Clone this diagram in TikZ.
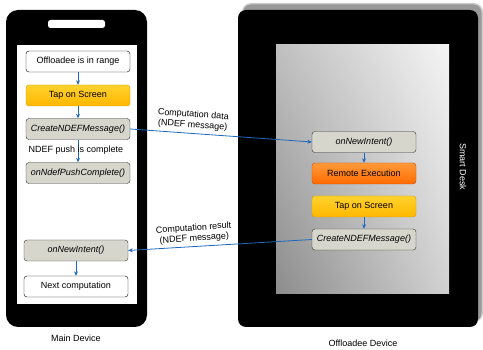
\documentclass[tikz,border=0pt]{standalone}
\usepackage{fontspec}
\setmainfont{Liberation Sans}
\usetikzlibrary{arrows.meta,shadings}
\definecolor{flowblue}{HTML}{1F68C1}
\definecolor{tapedge}{HTML}{D79B00}
\definecolor{tapA}{HTML}{FFD22E}
\definecolor{tapB}{HTML}{FFB700}
\definecolor{runedge}{HTML}{C24E00}
\definecolor{runA}{HTML}{FF9A3A}
\definecolor{runB}{HTML}{FF6A00}
\definecolor{callfill}{HTML}{D6D6CC}
\begin{document}
\begin{tikzpicture}[x=1pt, y=-1pt, >={Stealth[length=4.5pt, width=4pt]},
  every node/.style={font=\fontsize{9}{10.5}\selectfont},
  stepbox/.style={draw, rounded corners=3pt, minimum width=104pt, minimum height=21pt, inner sep=0pt},
  plainbox/.style={stepbox, fill=white},
  tapbox/.style={stepbox, draw=tapedge, top color=tapA, bottom color=tapB},
  runbox/.style={stepbox, draw=runedge, top color=runA, bottom color=runB},
  callbox/.style={stepbox, draw=black!80, fill=callfill, font=\fontsize{9}{10.5}\selectfont\itshape},
  flow/.style={->, flowblue, thick}]
\useasboundingbox (0,0) rectangle (483,350);
% main device
\fill [black, rounded corners=12pt] (6,10) rectangle (147,327);
\fill [white] (17,45) rectangle (137,304);
\fill [white, rounded corners=2.5pt] (48,20) rectangle (105,28);
\node (main) at (76,338) {Main Device};
% offloadee device
\fill [black!20, rounded corners=9pt] (242,3) rectangle (483,322);
\fill [black!40, rounded corners=8pt] (243,4.5) rectangle (481.5,321);
\fill [black, rounded corners=8pt] (238,10) rectangle (478,327);
\shade [lower left=black!45, upper left=black!25, lower right=black!18, upper right=black!4] (276,45) rectangle (449,294);
\node [white, rotate=-90] (desk) at (463,167) {Smart Desk};
\node (offl) at (363,343) {Offloadee Device};
% phone steps
\node [plainbox] (range) at (78,61.5) {Offloadee is in range};
\node [tapbox] (tap1) at (78,95.5) {Tap on Screen};
\node [callbox] (create1) at (78,129) {CreateNDEFMessage()};
\node [callbox] (push) at (78,173) {onNdefPushComplete()};
\node [callbox] (intent1) at (76,250.5) {onNewIntent()};
\node [plainbox] (next) at (76,286.5) {Next computation};
\draw [flow] (range) -- (tap1);
\draw [flow] (tap1) -- (create1);
\draw [flow] (create1) -- (push);
\node (pushed) at (76,150) {NDEF push is complete};
\draw [flow] (intent1) -- (next);
% desk steps
\node [callbox] (intent2) at (364,142) {onNewIntent()};
\node [runbox] (remote) at (364,173.5) {Remote Execution};
\node [tapbox] (tap2) at (364,206.5) {Tap on Screen};
\node [callbox] (create2) at (364,239.5) {CreateNDEFMessage()};
\draw [flow] (intent2) -- (remote);
\draw [flow] (tap2) -- (create2);
% messages
\draw [flow] (create1.east) -- (intent2.west);
\node [align=center, rotate=-4] (data) at (193,120) {Computation data\\(NDEF message)};
\draw [flow] (create2.west) -- (intent1.east);
\node [align=center, rotate=4] (result) at (194,233.5) {Computation result\\(NDEF message)};
\end{tikzpicture}
\end{document}
